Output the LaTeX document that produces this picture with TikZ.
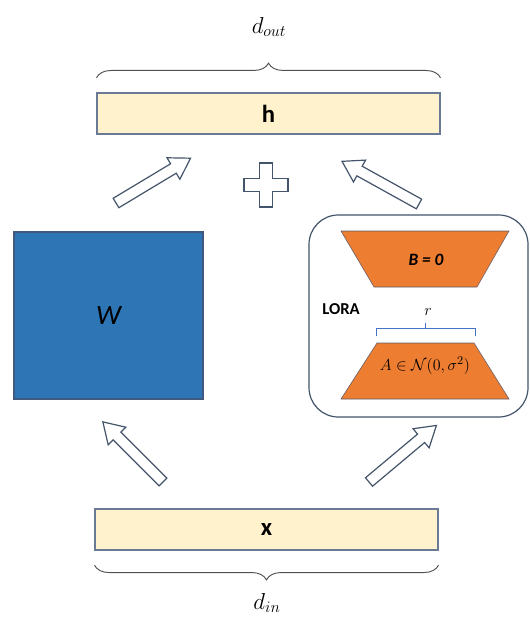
\documentclass[tikz,border=0pt]{standalone}
\usepackage{amsmath,amssymb}
\usepackage{fontspec}
\usepackage{xcolor}
\usepackage{tikz}
\usetikzlibrary{decorations.pathreplacing}
\newfontfamily\calibri{Carlito}
\definecolor{vecfill}{HTML}{FFF2CC}
\definecolor{vecdraw}{HTML}{6A7A95}
\definecolor{wfill}{HTML}{2E75B6}
\definecolor{wdraw}{HTML}{41597F}
\definecolor{lorafill}{HTML}{ED7D31}
\definecolor{loradraw}{HTML}{5E5A6A}
\definecolor{outline}{HTML}{44546A}
\definecolor{rblue}{HTML}{4472C4}
\definecolor{bracecol}{HTML}{505050}
\tikzset{
  vecbox/.style={draw=vecdraw, fill=vecfill, line width=0.8pt, inner sep=0pt,
    font=\calibri\bfseries\fontsize{18.5}{20}\selectfont},
  weight/.style={draw=wdraw, fill=wfill, line width=0.8pt, inner sep=0pt,
    font=\calibri\itshape\fontsize{21}{23}\selectfont},
  lowrank/.style={draw=loradraw, fill=lorafill, line width=0.4pt},
  frame/.style={draw=outline, line width=0.9pt, rounded corners=22pt},
  hollow/.style={draw=outline, fill=white, line width=0.9pt, line join=miter},
  curly/.style={draw=bracecol, line width=0.7pt,
    decorate, decoration={brace, amplitude=11pt}},
  dimlab/.style={font=\fontsize{18}{20}\selectfont}
}
% fat outlined arrow: tail point, angle, length
\newcommand{\hollowarrow}[3]{%
  \draw[hollow, shift={#1}, rotate=#2]
    (0,-5.5) -- (#3-20,-5.5) -- (#3-20,-12.5) -- (#3,0)
    -- (#3-20,12.5) -- (#3-20,5.5) -- (0,5.5) -- cycle;}

\begin{document}
\begin{tikzpicture}[x=0.75pt, y=-0.75pt]
\useasboundingbox (0,0) rectangle (530,617);

% input and output vectors
\node[vecbox, minimum width=257.25pt, minimum height=30.75pt] (h) at (268.5,113.5) {h};
\node[vecbox, minimum width=257.25pt, minimum height=30.75pt] (x) at (266.5,529.5) {x};

\draw[curly] ([yshift=11pt]h.north west) -- ([yshift=11pt]h.north east);
\node[dimlab] (dout) at (269,27) {$d_{out}$};
\draw[curly] ([yshift=-11pt]x.south east) -- ([yshift=-11pt]x.south west);
\node[dimlab] (din) at (267,603) {$d_{in}$};

% pretrained weights
\node[weight, minimum width=141.75pt, minimum height=125.25pt] (W) at (108.5,315.5) {W};

% low-rank branch
\draw[frame] (309,215) rectangle (528,417);
\node[font=\calibri\bfseries\fontsize{12.5}{14}\selectfont] (lora) at (341,309) {LORA};
\draw[lowrank] (341,231) -- (509,231) -- (477,287) -- (374,287) -- cycle;
\node[font=\calibri\bfseries\itshape\fontsize{13}{15}\selectfont] (B) at (426,260) {B = 0};
\draw[lowrank] (377,343) -- (474,343) -- (509,399) -- (341,399) -- cycle;
\node[font=\fontsize{12.5}{14}\selectfont] (A) at (425,366) {$A\in\mathcal{N}(0,\sigma^2)$};
\draw[rblue, line width=0.7pt] (376,336) -- (376,328) -- (475,328) -- (475,336)
  (425.5,328) -- (425.5,323);
\node[font=\fontsize{12}{14}\selectfont] (r) at (428,312) {$r$};

% sum
\draw[hollow] (259.5,163) -- (272.5,163) -- (272.5,178.5) -- (288,178.5) -- (288,191.5)
  -- (272.5,191.5) -- (272.5,207) -- (259.5,207) -- (259.5,191.5) -- (244,191.5)
  -- (244,178.5) -- (259.5,178.5) -- cycle;

% data flow
\hollowarrow{(116,203)}{31}{87}
\hollowarrow{(419,204)}{151}{88}
\hollowarrow{(163,482)}{135}{85}
\hollowarrow{(369,482)}{40}{88}
\end{tikzpicture}
\end{document}
